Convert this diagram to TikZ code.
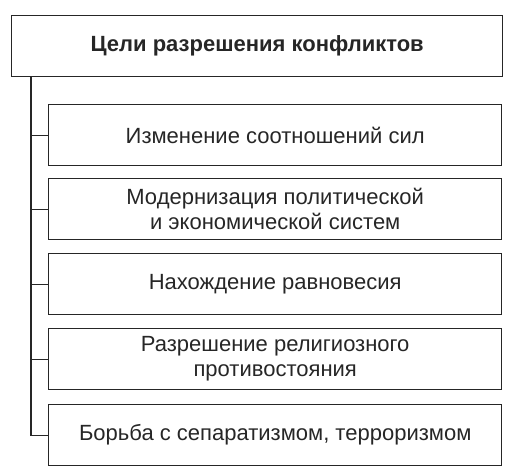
\documentclass[tikz,border=0pt]{standalone}
\usepackage{fontspec}
\setmainfont{Liberation Sans}
\begin{document}
\begin{tikzpicture}[x=1pt,y=1pt,
  linec/.style={draw=black!85,line width=1.4pt},
  goalbox/.style={linec,minimum width=453pt,minimum height=61pt,align=center,
    font=\fontsize{22}{25}\selectfont,text=black!85,inner sep=0pt,anchor=north west},
  titlebox/.style={linec,minimum width=491pt,minimum height=61pt,align=center,
    font=\fontsize{22}{25}\selectfont\bfseries,text=black!85,inner sep=0pt,anchor=north west}]
\useasboundingbox (0,0) rectangle (510,-474);
\node[titlebox] (t) at (11,-15) {Цели разрешения конфликтов};
\node[goalbox] (b1) at (48,-104) {Изменение соотношений сил};
\node[goalbox] (b2) at (48,-178) {Модернизация политической\\и экономической систем};
\node[goalbox] (b3) at (48,-253) {Нахождение равновесия};
\node[goalbox] (b4) at (48,-328) {Разрешение религиозного\\противостояния};
\node[goalbox] (b5) at (48,-404) {Борьба с сепаратизмом, терроризмом};
\coordinate (top) at ([xshift=20pt]t.south west);
\coordinate (bot) at (top |- b5.west);
\draw[linec] (top) -- (bot) -- (b5.west);
\foreach \b in {b1,b2,b3,b4}
  \draw[linec] (top |- \b.west) -- (\b.west);
\end{tikzpicture}
\end{document}
